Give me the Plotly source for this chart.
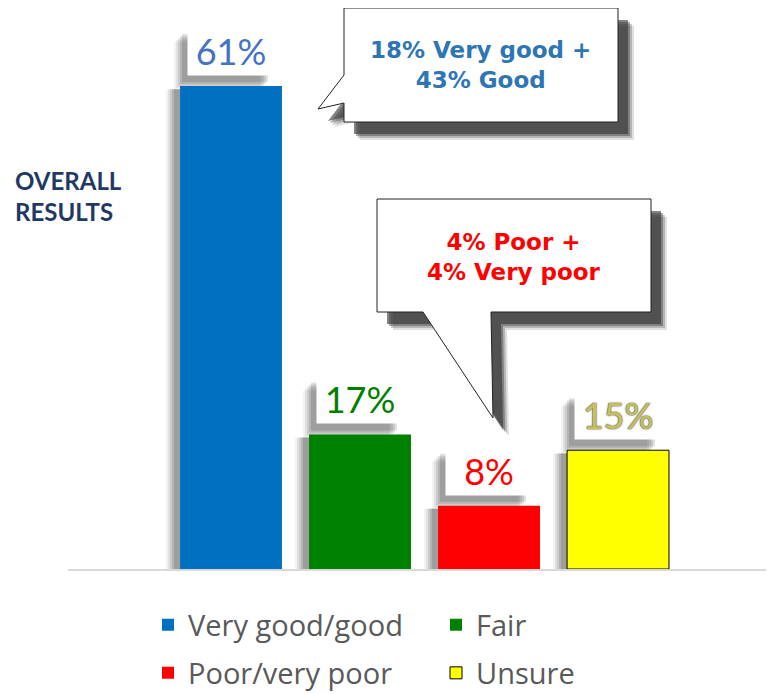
import plotly.graph_objects as go

# data
categories = ["Very good/good", "Fair", "Poor/very poor", "Unsure"]
values = [61, 17, 8, 15]
bar_colors = ["#0070C0", "#008000", "#FF0000", "#FFFF00"]
label_colors = ["#4472C4", "#008000", "#FF0000", "#C8C058"]
callout_good = "18% Very good +<br>43% Good"
callout_poor = "4% Poor +<br>4% Very poor"
side_title = "OVERALL<br>RESULTS"

# page body has an 8px margin, so the figure is drawn 8px in from the corner
OFF = 8
W, H = 774 - OFF, 694 - OFF
ML, MB = 68 - OFF, 125
PW, PH = W - ML, H - MB


# screen pixels -> paper coords (for callouts / side title)
def px(x):
    return (x - OFF - ML) / PW


def py(y):
    return (H - MB - (y - OFF)) / PH


# screen pixels -> container coords (legends, so they don't push margins)
def cx(x):
    return (x - OFF) / W


def cy(y):
    return (H - (y - OFF)) / H


fig = go.Figure()

idx = list(range(len(categories)))
for i in idx:
    fig.add_trace(go.Bar(
        x=[i], y=[values[i]], name=categories[i],
        width=0.79,
        marker_color=bar_colors[i],
        marker_line_color="black" if categories[i] == "Unsure" else bar_colors[i],
        marker_line_width=1 if categories[i] == "Unsure" else 0,
        hoverinfo="skip",
        legend="legend" if i in (0, 1) else "legend2",
    ))

shapes = []
annotations = []
half = 51
# soft shadows left of each bar and under each value box
for i in idx:
    v = values[i]
    for dx, op in [(-14, 0.05), (-12, 0.07), (-10, 0.09), (-8, 0.11), (-6, 0.12)]:
        shapes.append(dict(type="rect", layer="below", xref="x", yref="y",
                           xsizemode="pixel", xanchor=i,
                           x0=-half + dx, x1=half + dx, y0=0, y1=v - 0.4,
                           fillcolor=f"rgba(0,0,0,{op})", line_width=0))
        shapes.append(dict(type="rect", layer="below", xref="x", yref="y",
                           xsizemode="pixel", ysizemode="pixel", xanchor=i, yanchor=v,
                           x0=-43 + dx, x1=43 + dx, y0=10 + dx, y1=58 + dx,
                           fillcolor=f"rgba(0,0,0,{op})", line_width=0))
    annotations.append(dict(
        x=i, y=v, xref="x", yref="y", yanchor="bottom", yshift=10,
        text=f"{v}%", showarrow=False, bgcolor="white",
        width=78, height=40, borderpad=4,
        font=dict(family="Lato", size=36, color=label_colors[i],
                  shadow="0 0 2px #707070, 0 0 1px #707070, 0 0 1px #707070"
                  if categories[i] == "Unsure" else "none"),
    ))


def bubble(points, dx, dy):
    return "M " + " L ".join(f"{px(x + dx)},{py(y + dy)}" for x, y in points) + " Z"


bub1 = [(344, 8), (618, 8), (618, 122), (344, 122), (344, 103), (318, 109), (344, 75)]
bub2 = [(377, 199), (651, 199), (651, 312), (491, 312), (493, 418), (423, 312), (377, 312)]
for pts in (bub1, bub2):
    for d, op in [(17, 0.15), (15, 0.25), (13, 0.4), (11, 0.6)]:
        shapes.append(dict(type="path", layer="above", xref="paper", yref="paper",
                           path=bubble(pts, d - 1, d + 1), fillcolor=f"rgba(50,50,50,{op})",
                           line_width=0))
    shapes.append(dict(type="path", layer="above", xref="paper", yref="paper",
                       path=bubble(pts, 0, 0), fillcolor="white",
                       line=dict(color="#222222", width=1)))

annotations += [
    dict(x=px(481), y=py(65), xref="paper", yref="paper", text=callout_good,
         showarrow=False, align="center", xanchor="center", yanchor="middle",
         font=dict(family="DejaVu Sans", size=23, color="#2E75B6", weight="bold")),
    dict(x=px(514), y=py(257), xref="paper", yref="paper", text=callout_poor,
         showarrow=False, align="center", xanchor="center", yanchor="middle",
         font=dict(family="DejaVu Sans", size=23, color="#FF0000", weight="bold")),
    dict(x=px(13), y=py(196), xref="paper", yref="paper", text=side_title,
         showarrow=False, align="left", xanchor="left", yanchor="middle",
         font=dict(family="Lato", size=24, color="#1F3864", weight="bold")),
]

leg_style = dict(orientation="h", xanchor="left", yanchor="middle",
                 xref="container", yref="container",
                 entrywidth=243, entrywidthmode="pixels", bgcolor="rgba(0,0,0,0)",
                 font=dict(family="Open Sans", size=29, color="#595959"),
                 traceorder="normal")

fig.update_layout(
    width=W, height=H,
    margin=dict(l=ML, r=0, t=0, b=MB, autoexpand=False),
    plot_bgcolor="white", paper_bgcolor="white",
    barmode="overlay",
    showlegend=True,
    legend=dict(leg_style, x=cx(148), y=cy(625)),
    legend2=dict(leg_style, x=cx(148), y=cy(673)),
    xaxis=dict(range=[-1.2636, 4.209], showticklabels=False, showgrid=False,
               zeroline=False, showline=True, linecolor="#D9D9D9", linewidth=2,
               fixedrange=True),
    yaxis=dict(range=[0, 70.85], visible=False, fixedrange=True),
    shapes=shapes,
    annotations=annotations,
)

fig.write_html("out.html")
